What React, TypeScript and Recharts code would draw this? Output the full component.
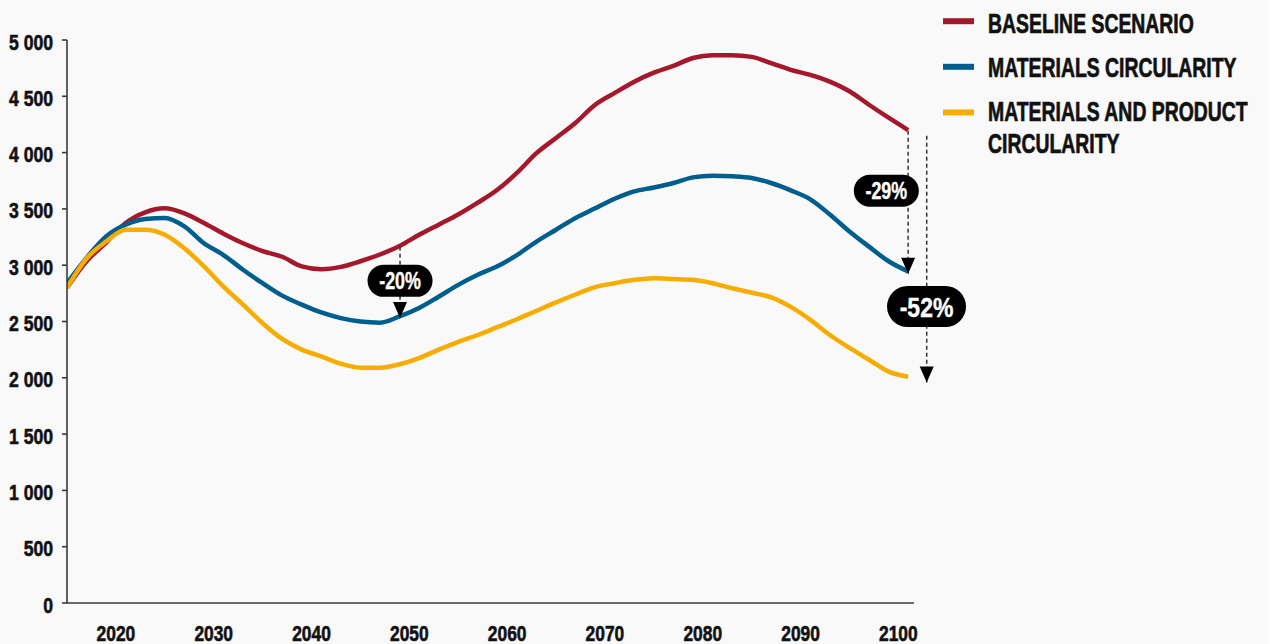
import React from "react";
import {
  LineChart,
  Line,
  XAxis,
  YAxis,
  Legend,
  ReferenceLine,
  ReferenceDot,
} from "recharts";

// ---------- data ----------
const years = [
  2015, 2017, 2019, 2021, 2023, 2025, 2027, 2029, 2031, 2033, 2035, 2037, 2039,
  2041, 2043, 2045, 2047, 2049, 2051, 2053, 2055, 2057, 2059, 2061, 2063, 2065,
  2067, 2069, 2071, 2073, 2075, 2077, 2079, 2081, 2083, 2085, 2087, 2089, 2091,
  2093, 2095, 2097, 2099, 2101,
];

const baseline = [
  2800, 3035, 3200, 3375, 3470, 3505, 3460, 3375, 3280, 3195, 3125, 3075, 2990,
  2965, 2985, 3035, 3095, 3170, 3270, 3360, 3450, 3555, 3670, 3820, 3995, 4130,
  4265, 4425, 4530, 4630, 4710, 4770, 4840, 4865, 4865, 4850, 4795, 4735, 4690,
  4630, 4545, 4425, 4310, 4200,
];

const materials = [
  2840, 3065, 3255, 3360, 3410, 3420, 3345, 3195, 3090, 2960, 2840, 2730, 2650,
  2580, 2530, 2500, 2490, 2545, 2620, 2720, 2825, 2915, 2990, 3090, 3210, 3315,
  3420, 3505, 3590, 3655, 3690, 3730, 3780, 3795, 3790, 3775, 3730, 3665, 3585,
  3450, 3300, 3165, 3035, 2945,
];

const product = [
  2800, 3060, 3210, 3315, 3315, 3270, 3150, 2990, 2810, 2650, 2485, 2345, 2250,
  2190, 2125, 2090, 2090, 2120, 2175, 2250, 2320, 2380, 2450, 2520, 2595, 2670,
  2740, 2805, 2840, 2870, 2885, 2878, 2870, 2840, 2795, 2755, 2715, 2630, 2515,
  2380, 2265, 2160, 2055, 2010,
];

const seriesKeys = ["baseline", "materials", "product"];
const seriesNames = [
  "BASELINE SCENARIO",
  "MATERIALS CIRCULARITY",
  "MATERIALS AND PRODUCT CIRCULARITY",
];
const seriesColors = ["#A3182A", "#005E8E", "#F7AD00"];

const xTicks = [2020, 2030, 2040, 2050, 2060, 2070, 2080, 2090, 2100];
const yTicks = [0, 500, 1000, 1500, 2000, 2500, 3000, 3500, 4000, 4500, 5000];

// annotations (data coordinates)
const annoLabels = ["-20%", "-29%", "-52%"];
const annoX = [2049.05, 2101.0, 2102.9];
const annoFrom = [3163, 4195, 4150];
const annoTo = [2532, 2923, 1958];
const annoPillX = [2049.05, 2098.77, 2102.88];
const annoPillY = [2861, 3661, 2633];
const annoBig = [false, false, true];

const data = years.map((year, i) => ({
  year,
  baseline: baseline[i],
  materials: materials[i],
  product: product[i],
}));

// ---------- styles ----------
const FONT = "'Liberation Sans', Arial, sans-serif";
const AXIS_COLOR = "#3a3a3a";
const TEXT_COLOR = "#111111";

const fmt = (v: number) =>
  String(v).replace(/\B(?=(\d{3})+(?!\d))/g, " ");

const YTick = (props: any) => {
  const { x, y, payload } = props;
  return (
    <text
      transform={`translate(${x},${y + 9.5}) scale(0.8,1)`}
      textAnchor="end"
      fontFamily={FONT}
      fontWeight={700}
      fontSize={22}
      fill={TEXT_COLOR}
      stroke={TEXT_COLOR}
      strokeWidth={0.6}
    >
      {fmt(payload.value)}
    </text>
  );
};

const XTick = (props: any) => {
  const { x, y, payload } = props;
  return (
    <text
      transform={`translate(${x},${y + 38}) scale(0.79,1)`}
      textAnchor="middle"
      fontFamily={FONT}
      fontWeight={700}
      fontSize={22}
      fill={TEXT_COLOR}
      stroke={TEXT_COLOR}
      strokeWidth={0.6}
    >
      {payload.value}
    </text>
  );
};

const wrapWords = (s: string, max: number) => {
  const words = s.split(" ");
  const lines: string[] = [];
  let cur = "";
  for (const w of words) {
    const next = cur ? cur + " " + w : w;
    if (next.length > max && cur) {
      lines.push(cur);
      cur = w;
    } else cur = next;
  }
  if (cur) lines.push(cur);
  return lines;
};

const LegendContent = (props: any) => {
  const payload = [...(props.payload || [])].sort(
    (a: any, b: any) =>
      seriesNames.indexOf(String(a.value)) - seriesNames.indexOf(String(b.value))
  );
  return (
    <svg width={339} height={170} style={{ display: "block" }}>
      {payload.map((entry: any, i: number) => {
        const lines = wrapWords(String(entry.value), 21);
        const base = 33.4 + 43.7 * i;
        const sw = 21.2 + 45.6 * i;
        return (
          <g key={i}>
            <rect x={13} y={sw - 3} width={31} height={6} fill={entry.color} />
            {lines.map((ln, j) => (
              <text
                key={j}
                transform={`translate(58,${base + j * 32.6}) scale(0.693,1)`}
                fontFamily={FONT}
                fontWeight={700}
                fontSize={28}
                fill={TEXT_COLOR}
                stroke={TEXT_COLOR}
                strokeWidth={0.7}
              >
                {ln}
              </text>
            ))}
          </g>
        );
      })}
    </svg>
  );
};

const makeArrow = () => (p: any) => {
  const { cx, cy } = p;
  return (
    <polygon
      points={`${cx - 7},${cy - 16} ${cx + 7},${cy - 16} ${cx},${cy}`}
      fill="#000"
    />
  );
};

const makePill = (label: string, big: boolean) => (p: any) => {
  const { cx, cy } = p;
  const w = big ? 79 : 65;
  const h = big ? 41 : 32;
  const fs = big ? 28 : 23.5;
  const k = big ? 0.82 : 0.76;
  return (
    <g>
      <rect
        x={cx - w / 2}
        y={cy - h / 2}
        width={w}
        height={h}
        rx={h / 2}
        ry={h / 2}
        fill="#000"
      />
      <text
        transform={`translate(${cx},${cy + fs * 0.36}) scale(${k},1)`}
        textAnchor="middle"
        fontFamily={FONT}
        fontWeight={700}
        fontSize={fs}
        fill="#fff"
        stroke="#fff"
        strokeWidth={0.4}
      >
        {label}
      </text>
    </g>
  );
};

export default function App() {
  return (
    <div
      style={{
        position: "absolute",
        left: 0,
        top: 0,
        width: 1269,
        height: 644,
        background: "#f9f9f9",
        overflow: "hidden",
      }}
    >
      <LineChart
        width={1269}
        height={644}
        data={data}
        margin={{ top: 40, right: 355, bottom: 0, left: 0 }}
      >
        <XAxis
          dataKey="year"
          type="number"
          domain={[2015, 2101.6]}
          ticks={xTicks}
          allowDataOverflow
          height={41}
          tickLine={false}
          tickSize={0}
          tickMargin={0}
          axisLine={{ stroke: AXIS_COLOR, strokeWidth: 1.6 }}
          tick={XTick}
          interval={0}
        />
        <YAxis
          type="number"
          domain={[0, 5000]}
          ticks={yTicks}
          width={67}
          tickSize={5}
          tickMargin={9}
          tickLine={{ stroke: AXIS_COLOR, strokeWidth: 1.6 }}
          axisLine={{ stroke: AXIS_COLOR, strokeWidth: 1.6 }}
          tick={YTick}
          interval={0}
        />
        <Legend
          layout="vertical"
          align="center"
          verticalAlign="middle"
          wrapperStyle={{ left: 930, top: 0, width: 339, height: 170 }}
          content={LegendContent}
        />
        {seriesKeys.map((k, i) => (
          <Line
            key={k}
            type="monotone"
            dataKey={k}
            name={seriesNames[i]}
            stroke={seriesColors[i]}
            strokeWidth={4.5}
            dot={false}
            activeDot={false}
            isAnimationActive={false}
          />
        ))}
        {annoLabels.map((lab, i) => (
          <ReferenceLine
            key={"l" + i}
            segment={[
              { x: annoX[i], y: annoFrom[i] },
              { x: annoX[i], y: annoTo[i] },
            ]}
            stroke="#333"
            strokeWidth={1.5}
            strokeDasharray="4 3"
            ifOverflow="visible"
          />
        ))}
        {annoLabels.map((lab, i) => (
          <ReferenceDot
            key={"a" + i}
            x={annoX[i]}
            y={annoTo[i]}
            r={1}
            ifOverflow="visible"
            shape={makeArrow()}
          />
        ))}
        {annoLabels.map((lab, i) => (
          <ReferenceDot
            key={"p" + i}
            x={annoPillX[i]}
            y={annoPillY[i]}
            r={1}
            ifOverflow="visible"
            shape={makePill(lab, annoBig[i])}
          />
        ))}
      </LineChart>
    </div>
  );
}
